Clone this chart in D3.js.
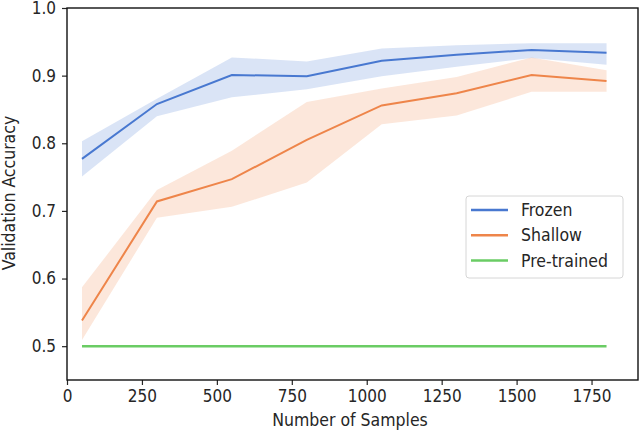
<!DOCTYPE html>
<html>
<head>
<meta charset="utf-8">
<script src="https://cdn.jsdelivr.net/npm/d3@7"></script>
<style>
  body { margin: 0; background: #fff; }
  svg text { font-family: "DejaVu Sans Condensed", "DejaVu Sans", sans-serif; fill: #262626; }
</style>
</head>
<body>
<svg id="chart" width="640" height="431"></svg>
<script>
var samples = [50, 300, 550, 800, 1050, 1300, 1550, 1800];

var frozenMean = [0.777, 0.858, 0.901, 0.899, 0.922, 0.931, 0.938, 0.934];
var frozenLow  = [0.751, 0.840, 0.868, 0.880, 0.899, 0.913, 0.926, 0.916];
var frozenHigh = [0.803, 0.866, 0.927, 0.921, 0.940, 0.945, 0.948, 0.948];

var shallowMean = [0.538, 0.714, 0.747, 0.805, 0.856, 0.874, 0.901, 0.892];
var shallowLow  = [0.509, 0.690, 0.706, 0.742, 0.828, 0.841, 0.876, 0.876];
var shallowHigh = [0.587, 0.731, 0.789, 0.861, 0.881, 0.898, 0.927, 0.908];

var pretrained = [0.5, 0.5, 0.5, 0.5, 0.5, 0.5, 0.5, 0.5];

var xTicks = [0, 250, 500, 750, 1000, 1250, 1500, 1750];
var yTicks = [0.5, 0.6, 0.7, 0.8, 0.9, 1.0];
var seriesNames = ['Frozen', 'Shallow', 'Pre-trained'];
var colors = ['#4878d0', '#ee854a', '#6acc64'];

var margin = { top: 8, right: 2, bottom: 51, left: 67 };
var width = 640 - margin.left - margin.right;
var height = 431 - margin.top - margin.bottom;

var svg = d3.select('#chart');
var chart = svg.append('g')
    .attr('transform', 'translate(' + margin.left + ',' + margin.top + ')');

var x = d3.scaleLinear().domain([0, 1905]).range([0, width]);
var y = d3.scaleLinear().domain([0.45, 1.0]).range([height, 0]);

function bandOf(low, high) {
    return samples.map(function (s, i) { return { x: s, lo: low[i], hi: high[i] }; });
}
function lineOf(vals) {
    return samples.map(function (s, i) { return { x: s, y: vals[i] }; });
}

var area = d3.area()
    .x(function (d) { return x(d.x); })
    .y0(function (d) { return y(d.lo); })
    .y1(function (d) { return y(d.hi); });
var line = d3.line()
    .x(function (d) { return x(d.x); })
    .y(function (d) { return y(d.y); });

chart.append('path').datum(bandOf(frozenLow, frozenHigh))
    .attr('d', area).attr('fill', colors[0]).attr('fill-opacity', 0.2);
chart.append('path').datum(bandOf(shallowLow, shallowHigh))
    .attr('d', area).attr('fill', colors[1]).attr('fill-opacity', 0.2);

var lines = [frozenMean, shallowMean, pretrained];
var widths = [2, 2, 2.5];
lines.forEach(function (vals, i) {
    chart.append('path').datum(lineOf(vals))
        .attr('d', line)
        .attr('fill', 'none')
        .attr('stroke', colors[i])
        .attr('stroke-width', widths[i]);
});

// axes
var xAxis = chart.append('g')
    .attr('transform', 'translate(0,' + height + ')')
    .call(d3.axisBottom(x).tickValues(xTicks).tickSize(5).tickPadding(5).tickFormat(d3.format('d')));
var yAxis = chart.append('g')
    .call(d3.axisLeft(y).tickValues(yTicks).tickSize(5).tickPadding(6).tickFormat(d3.format('.1f')));

[xAxis, yAxis].forEach(function (a) {
    a.select('.domain').remove();
    a.selectAll('line').attr('stroke', '#262626').attr('stroke-width', 1.2);
    a.selectAll('text').style('font-size', '17px').style('fill', '#262626')
        .style('font-family', '"DejaVu Sans Condensed", "DejaVu Sans", sans-serif');
});

// frame
chart.append('rect')
    .attr('x', 0).attr('y', 0)
    .attr('width', width).attr('height', height)
    .attr('fill', 'none').attr('stroke', '#111').attr('stroke-width', 1.4);

// axis labels
svg.append('text')
    .attr('x', 350)
    .attr('y', 426)
    .attr('text-anchor', 'middle')
    .style('font-size', '17.5px')
    .text('Number of Samples');
svg.append('text')
    .attr('transform', 'translate(15,' + 193 + ') rotate(-90)')
    .attr('text-anchor', 'middle')
    .style('font-size', '17.5px')
    .text('Validation Accuracy');

// legend
var legend = chart.append('g')
    .attr('transform', 'translate(' + (466 - margin.left) + ',' + (196 - margin.top) + ')');
legend.append('rect')
    .attr('width', 157).attr('height', 82)
    .attr('rx', 3).attr('ry', 3)
    .attr('fill', '#fff').attr('fill-opacity', 0.8)
    .attr('stroke', '#d6d6d6').attr('stroke-width', 1);
seriesNames.forEach(function (name, i) {
    var ly = 14 + i * 25.3;
    legend.append('line')
        .attr('x1', 5).attr('x2', 42)
        .attr('y1', ly).attr('y2', ly)
        .attr('stroke', colors[i]).attr('stroke-width', 2.5);
    legend.append('text')
        .attr('x', 55).attr('y', ly + 6)
        .style('font-size', '17.5px')
        .text(name);
});
</script>
</body>
</html>
